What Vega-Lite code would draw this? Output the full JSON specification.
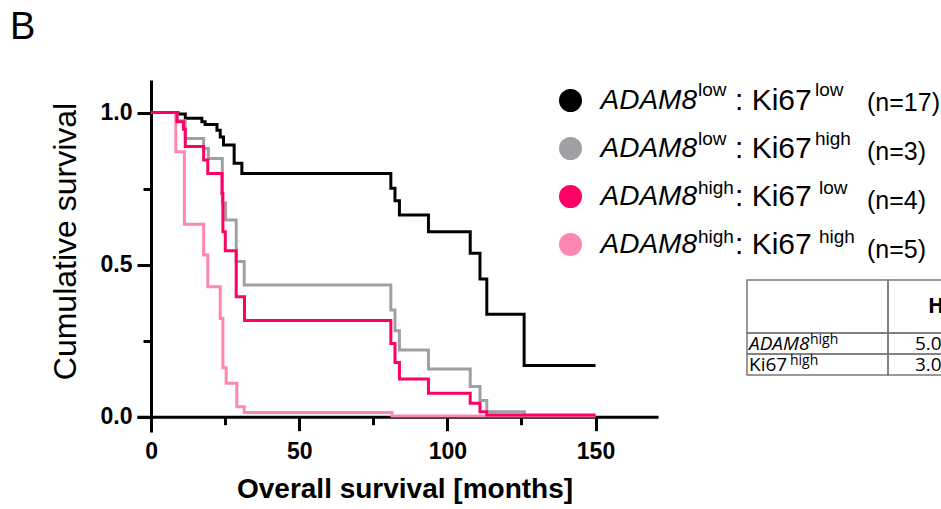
{
  "$schema": "https://vega.github.io/schema/vega-lite/v6.json",
  "width": 521,
  "height": 352,
  "autosize": {"type": "none"},
  "padding": {"left": 137, "top": 80, "right": 283, "bottom": 77},
  "background": "#ffffff",
  "title": {"text": "B", "anchor": "start", "frame": "group", "font": "Liberation Sans", "fontSize": 38, "fontWeight": "normal", "color": "#000000", "offset": 33, "dx": -127},
  "datasets": {
    "curves": [
      {"g": "ll", "t": 0, "s": 1},
      {"g": "ll", "t": 9.0, "s": 0.995},
      {"g": "ll", "t": 11.5, "s": 0.981},
      {"g": "ll", "t": 17.1, "s": 0.970},
      {"g": "ll", "t": 18.2, "s": 0.961},
      {"g": "ll", "t": 22.2, "s": 0.942},
      {"g": "ll", "t": 23.3, "s": 0.920},
      {"g": "ll", "t": 24.4, "s": 0.893},
      {"g": "ll", "t": 28.0, "s": 0.833},
      {"g": "ll", "t": 30.6, "s": 0.800},
      {"g": "ll", "t": 80.9, "s": 0.751},
      {"g": "ll", "t": 82.3, "s": 0.710},
      {"g": "ll", "t": 83.8, "s": 0.663},
      {"g": "ll", "t": 93.6, "s": 0.608},
      {"g": "ll", "t": 107.7, "s": 0.537},
      {"g": "ll", "t": 111.0, "s": 0.453},
      {"g": "ll", "t": 113.3, "s": 0.337},
      {"g": "ll", "t": 125.9, "s": 0.168},
      {"g": "ll", "t": 150, "s": 0.168},
      {"g": "lh", "t": 0, "s": 1},
      {"g": "lh", "t": 8.7, "s": 0.973},
      {"g": "lh", "t": 11.5, "s": 0.915},
      {"g": "lh", "t": 17.7, "s": 0.882},
      {"g": "lh", "t": 19.3, "s": 0.849},
      {"g": "lh", "t": 24.0, "s": 0.703},
      {"g": "lh", "t": 25.1, "s": 0.647},
      {"g": "lh", "t": 28.7, "s": 0.510},
      {"g": "lh", "t": 31.4, "s": 0.433},
      {"g": "lh", "t": 80.9, "s": 0.351},
      {"g": "lh", "t": 82.3, "s": 0.283},
      {"g": "lh", "t": 83.8, "s": 0.219},
      {"g": "lh", "t": 93.6, "s": 0.157},
      {"g": "lh", "t": 107.7, "s": 0.099},
      {"g": "lh", "t": 111.0, "s": 0.053},
      {"g": "lh", "t": 113.3, "s": 0.016},
      {"g": "lh", "t": 126.0, "s": 0},
      {"g": "hh", "t": 0, "s": 1},
      {"g": "hh", "t": 8.3, "s": 0.871},
      {"g": "hh", "t": 11.2, "s": 0.633},
      {"g": "hh", "t": 17.7, "s": 0.532},
      {"g": "hh", "t": 19.1, "s": 0.427},
      {"g": "hh", "t": 23.3, "s": 0.323},
      {"g": "hh", "t": 24.2, "s": 0.161},
      {"g": "hh", "t": 25.3, "s": 0.110},
      {"g": "hh", "t": 28.9, "s": 0.033},
      {"g": "hh", "t": 31.4, "s": 0.014},
      {"g": "hh", "t": 81.3, "s": 0.002},
      {"g": "hh", "t": 150, "s": 0.002},
      {"g": "hl", "t": 0, "s": 1},
      {"g": "hl", "t": 8.7, "s": 0.970},
      {"g": "hl", "t": 10.9, "s": 0.945},
      {"g": "hl", "t": 11.5, "s": 0.888},
      {"g": "hl", "t": 17.7, "s": 0.844},
      {"g": "hl", "t": 19.1, "s": 0.800},
      {"g": "hl", "t": 23.9, "s": 0.734},
      {"g": "hl", "t": 24.2, "s": 0.608},
      {"g": "hl", "t": 25.0, "s": 0.546},
      {"g": "hl", "t": 28.7, "s": 0.394},
      {"g": "hl", "t": 31.5, "s": 0.316},
      {"g": "hl", "t": 80.9, "s": 0.241},
      {"g": "hl", "t": 82.3, "s": 0.178},
      {"g": "hl", "t": 83.8, "s": 0.124},
      {"g": "hl", "t": 93.6, "s": 0.077},
      {"g": "hl", "t": 107.7, "s": 0.044},
      {"g": "hl", "t": 111.0, "s": 0.016},
      {"g": "hl", "t": 113.3, "s": 0.006},
      {"g": "hl", "t": 150, "s": 0.006}
    ],
    "groups": [
      {"g": "ll", "a": "low|1", "k": "k1", "ks": "low|a", "n": "(n=17)"},
      {"g": "lh", "a": "low|2", "k": "k2", "ks": "high|b", "n": "(n=3)"},
      {"g": "hl", "a": "high|3", "k": "k3", "ks": "low|c", "n": "(n=4)"},
      {"g": "hh", "a": "high|4", "k": "k4", "ks": "high|d", "n": "(n=5)"}
    ],
    "table": [
      {"r": "head", "c": "c1", "txt": "", "sup": ""},
      {"r": "head", "c": "c2", "txt": "HR (95% CI)", "sup": ""},
      {"r": "adam", "c": "c1", "txt": "ADAM8", "sup": "high"},
      {"r": "adam", "c": "c2", "txt": "5.06", "sup": ""},
      {"r": "ki", "c": "c1", "txt": "Ki67", "sup": "high"},
      {"r": "ki", "c": "c2", "txt": "3.02", "sup": ""}
    ]
  },
  "layer": [
    {
      "data": {"name": "curves"},
      "transform": [
        {"lookup": "g", "from": {"data": {"name": "groups"}, "key": "g", "fields": ["a", "k", "ks", "n"]}}
      ],
      "mark": {"type": "line", "interpolate": "step-after", "strokeJoin": "miter"},
      "encoding": {
        "x": {
          "field": "t", "type": "quantitative",
          "scale": {"domain": [-4.8, 171.1], "nice": false, "zero": false},
          "axis": {
            "values": [0, 25, 50, 75, 100, 125, 150],
            "labelExpr": "datum.value % 50 === 0 ? format(datum.value, 'd') : ''",
            "tickSize": {"condition": {"test": "datum.value % 50 === 0", "value": 14}, "value": 8},
            "tickWidth": 3, "tickColor": "#000000",
            "domainColor": "#000000", "domainWidth": 3,
            "offset": -15.3, "grid": false,
            "labelFont": "Liberation Sans", "labelFontSize": 23, "labelFontWeight": "bold", "labelColor": "#000000",
            "labelPadding": 10, "labelFlush": false, "labelOverlap": false,
            "title": "Overall survival [months]",
            "titleFont": "Liberation Sans", "titleFontSize": 28, "titleFontWeight": "bold", "titleColor": "#000000",
            "titlePadding": 11.5, "titleX": 267.5
          }
        },
        "y": {
          "field": "s", "type": "quantitative",
          "scale": {"domain": [-0.0503, 1.107], "nice": false, "zero": false},
          "axis": {
            "values": [0, 0.25, 0.5, 0.75, 1],
            "labelExpr": "(datum.value === 0 || datum.value === 0.5 || datum.value === 1) ? format(datum.value, '.1f') : ''",
            "tickSize": {"condition": {"test": "datum.value === 0 || datum.value === 0.5 || datum.value === 1", "value": 14}, "value": 8},
            "tickWidth": 3, "tickColor": "#000000",
            "domainColor": "#000000", "domainWidth": 3,
            "offset": -14, "grid": false,
            "labelFont": "Liberation Sans", "labelFontSize": 23, "labelFontWeight": "bold", "labelColor": "#000000",
            "labelPadding": 5, "labelFlush": false, "labelOverlap": false,
            "title": "Cumulative survival",
            "titleFont": "Liberation Sans", "titleFontSize": 32, "titleFontWeight": "normal", "titleColor": "#000000",
            "titlePadding": 18, "titleY": 161
          }
        },
        "color": {
          "field": "g", "type": "nominal",
          "scale": {"domain": ["ll", "lh", "hl", "hh"], "range": ["#000000", "#a0a0a4", "#ff0066", "#ff86b4"]},
          "legend": {
            "orient": "none", "legendX": 419.5, "legendY": 6.5, "title": null, "direction": "vertical",
            "symbolType": "circle", "symbolSize": 132.25, "symbolStrokeWidth": 11.5,
            "labelExpr": "'ADAM8'", "labelFont": "Liberation Sans", "labelFontSize": 28, "labelFontStyle": "italic",
            "labelColor": "#000000", "labelOffset": 16, "rowPadding": -10,
            "encode": {"symbols": {"update": {"fill": {"value": "transparent"}, "strokeOpacity": {"value": 1}, "opacity": {"value": 1}}}}
          }
        },
        "opacity": {
          "field": "a", "type": "ordinal",
          "scale": {"domain": ["low|1", "low|2", "high|3", "high|4"], "range": [1, 1]},
          "legend": {
            "orient": "none", "legendX": 542, "legendY": 0.5, "title": null, "direction": "vertical",
            "symbolSize": 0, "symbolStrokeWidth": 0,
            "labelExpr": "split(datum.label, '|')[0]", "labelFont": "Liberation Sans", "labelFontSize": 19,
            "labelColor": "#000000", "labelOffset": 0, "rowPadding": 29,
            "encode": {"symbols": {"update": {"opacity": {"value": 0}}}}
          }
        },
        "strokeDash": {
          "field": "k", "type": "nominal",
          "scale": {"domain": ["k1", "k2", "k3", "k4"], "range": [[1, 0], [1, 0], [1, 0], [1, 0]]},
          "legend": {
            "orient": "none", "legendX": 568, "legendY": 6, "title": null, "direction": "vertical",
            "symbolSize": 0, "symbolStrokeWidth": 0,
            "labelExpr": "': Ki67'", "labelFont": "Liberation Sans", "labelFontSize": 30,
            "labelColor": "#000000", "labelOffset": 0, "rowPadding": 18,
            "encode": {
              "symbols": {"update": {"opacity": {"value": 0}}},
              "labels": {"update": {"dx": {"signal": "(datum.value === 'k3' || datum.value === 'k4') ? 10 : 0"}}}
            }
          }
        },
        "fill": {
          "field": "ks", "type": "nominal",
          "scale": {"domain": ["low|a", "high|b", "low|c", "high|d"], "range": ["transparent", "transparent", "transparent", "transparent"]},
          "legend": {
            "orient": "none", "legendX": 659, "legendY": 0.5, "title": null, "direction": "vertical",
            "symbolSize": 0, "symbolStrokeWidth": 0,
            "labelExpr": "split(datum.label, '|')[0]", "labelFont": "Liberation Sans", "labelFontSize": 19,
            "labelColor": "#000000", "labelOffset": 0, "rowPadding": 29,
            "encode": {
              "symbols": {"update": {"opacity": {"value": 0}}},
              "labels": {"update": {"dx": {"signal": "(datum.value === 'low|c' || datum.value === 'high|d') ? 4 : 0"}}}
            }
          }
        },
        "size": {
          "field": "n", "type": "ordinal",
          "scale": {"domain": ["(n=17)", "(n=3)", "(n=4)", "(n=5)"], "range": [3, 3]},
          "legend": {
            "orient": "none", "legendX": 705, "legendY": 10, "title": null, "direction": "vertical",
            "symbolSize": 0, "symbolStrokeWidth": 0,
            "labelFont": "Liberation Sans", "labelFontSize": 25,
            "labelColor": "#000000", "labelOffset": 0, "rowPadding": 23,
            "encode": {"symbols": {"update": {"opacity": {"value": 0}}}}
          }
        }
      }
    },
    {
      "data": {"name": "table"},
      "transform": [{"filter": "datum.r === 'head'"}],
      "encoding": {
        "x": {"field": "c", "type": "nominal", "scale": {"domain": ["c1", "c2", "c3"], "range": [610, 1033], "paddingInner": 0, "paddingOuter": 0}, "axis": null},
        "y": {"field": "r", "type": "nominal", "scale": {"domain": ["head"], "range": [200, 253], "paddingInner": 0, "paddingOuter": 0}, "axis": null}
      },
      "layer": [
        {"mark": {"type": "rect", "filled": false, "stroke": "#7a7a7a", "strokeWidth": 1.5}},
        {
          "transform": [{"filter": "datum.c === 'c2'"}],
          "mark": {"type": "text", "align": "left", "dx": 40, "font": "Open Sans", "fontSize": 21, "fontWeight": "bold", "color": "#000000"},
          "encoding": {"x": {"field": "c", "type": "nominal", "bandPosition": 0, "axis": null}, "text": {"field": "txt"}}
        }
      ]
    },
    {
      "data": {"name": "table"},
      "transform": [{"filter": "datum.r !== 'head'"}],
      "encoding": {
        "x": {"field": "c", "type": "nominal", "scale": {"domain": ["c1", "c2", "c3"], "range": [610, 1033], "paddingInner": 0, "paddingOuter": 0}, "axis": null},
        "y": {"field": "r", "type": "nominal", "scale": {"domain": ["adam", "ki"], "range": [253, 295], "paddingInner": 0, "paddingOuter": 0}, "axis": null}
      },
      "layer": [
        {"mark": {"type": "rect", "filled": false, "stroke": "#7a7a7a", "strokeWidth": 1.5}},
        {
          "transform": [{"filter": "datum.r === 'adam' && datum.c === 'c1'"}],
          "mark": {"type": "text", "align": "left", "dx": 2, "font": "Open Sans", "fontSize": 19, "fontStyle": "italic", "color": "#000000"},
          "encoding": {"x": {"field": "c", "type": "nominal", "bandPosition": 0, "axis": null}, "text": {"field": "txt"}}
        },
        {
          "transform": [{"filter": "datum.r === 'adam' && datum.c === 'c1'"}],
          "mark": {"type": "text", "align": "left", "dx": 63, "dy": -4, "font": "Open Sans", "fontSize": 14, "color": "#000000"},
          "encoding": {"x": {"field": "c", "type": "nominal", "bandPosition": 0, "axis": null}, "text": {"field": "sup"}}
        },
        {
          "transform": [{"filter": "datum.r === 'ki' && datum.c === 'c1'"}],
          "mark": {"type": "text", "align": "left", "dx": 2, "font": "Open Sans", "fontSize": 19, "color": "#000000"},
          "encoding": {"x": {"field": "c", "type": "nominal", "bandPosition": 0, "axis": null}, "text": {"field": "txt"}}
        },
        {
          "transform": [{"filter": "datum.r === 'ki' && datum.c === 'c1'"}],
          "mark": {"type": "text", "align": "left", "dx": 43, "dy": -4, "font": "Open Sans", "fontSize": 14, "color": "#000000"},
          "encoding": {"x": {"field": "c", "type": "nominal", "bandPosition": 0, "axis": null}, "text": {"field": "sup"}}
        },
        {
          "transform": [{"filter": "datum.c === 'c2'"}],
          "mark": {"type": "text", "align": "left", "dx": 27, "font": "Open Sans", "fontSize": 19, "color": "#000000"},
          "encoding": {"x": {"field": "c", "type": "nominal", "bandPosition": 0, "axis": null}, "text": {"field": "txt"}}
        }
      ]
    }
  ],
  "resolve": {"scale": {"x": "independent", "y": "independent"}},
  "config": {"view": {"stroke": null}, "legend": {"padding": 0, "labelLimit": 0}}
}
